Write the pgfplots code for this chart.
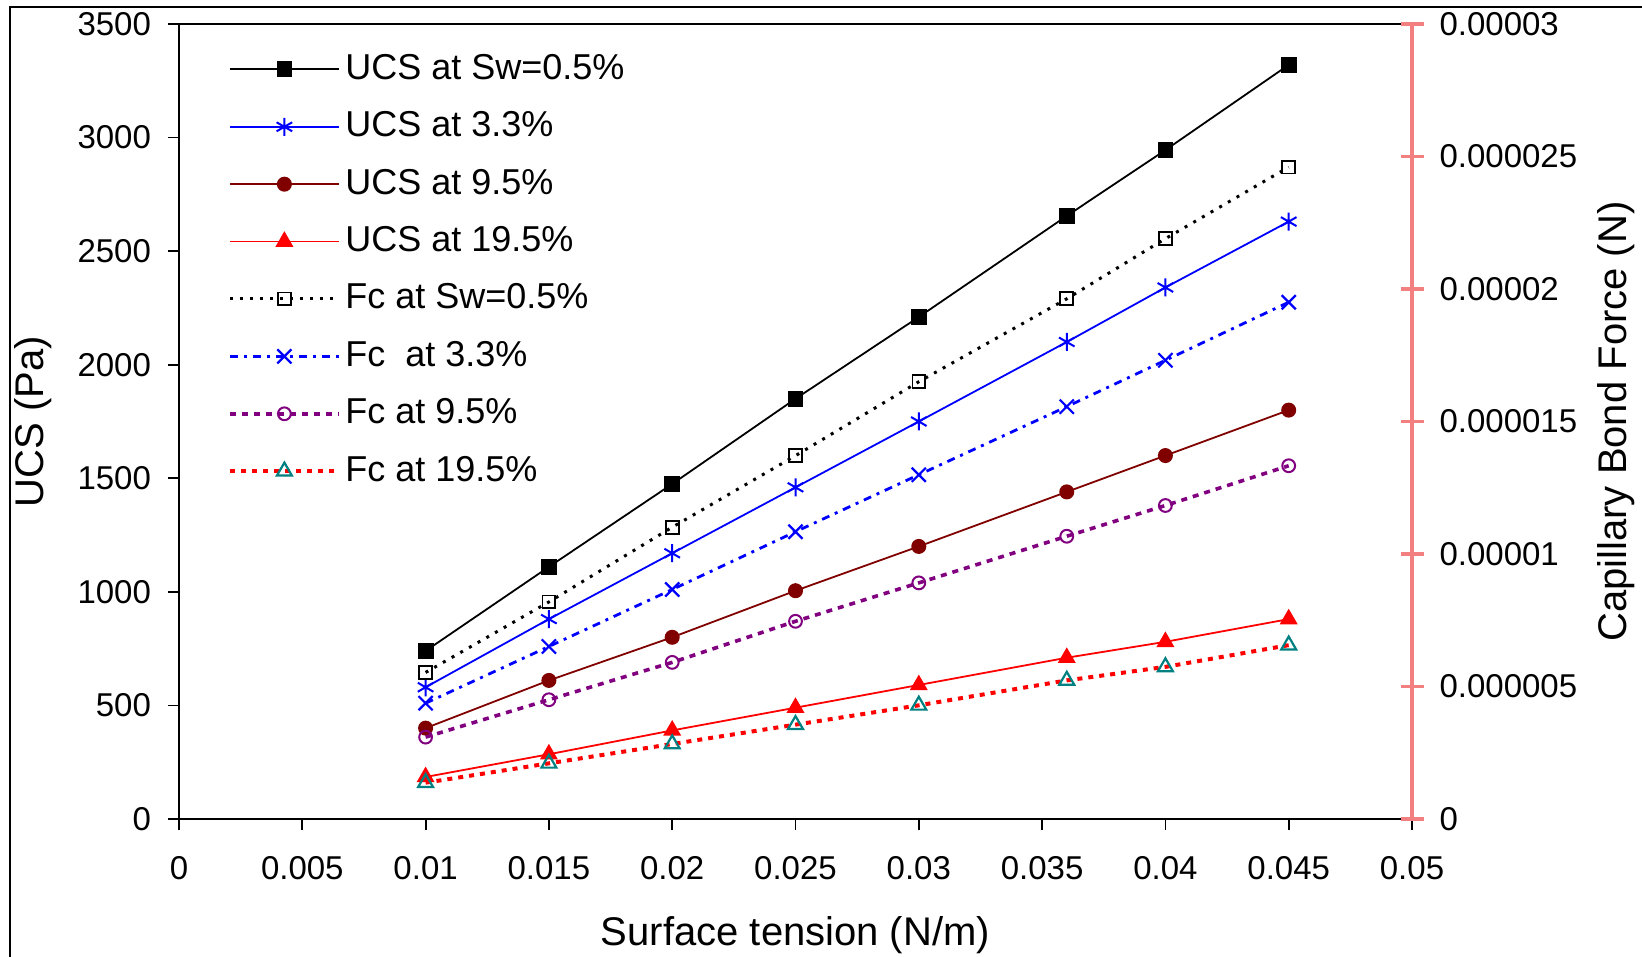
\documentclass[border=0pt]{standalone}
\usepackage{fontspec}
\setmainfont{Liberation Sans}
\usepackage{pgfplots}
\pgfplotsset{compat=1.18}
\definecolor{ucsblue}{RGB}{0,0,255}
\definecolor{ucsmaroon}{RGB}{128,0,0}
\definecolor{ucsred}{RGB}{255,0,0}
\definecolor{fcpurple}{RGB}{128,0,128}
\definecolor{fcteal}{RGB}{0,128,128}
\definecolor{axpink}{RGB}{242,128,128}
\pgfplotsset{
  ucsA/.style={black, line width=0.9pt, mark=square*, mark size=3.5pt, mark options={solid}},
  ucsB/.style={ucsblue, line width=0.9pt, mark=asterisk, mark size=4.5pt, mark options={solid, line width=1pt}},
  ucsC/.style={ucsmaroon, line width=0.9pt, mark=*, mark size=3.3pt, mark options={solid}},
  ucsD/.style={ucsred, line width=0.9pt, mark=triangle*, mark size=4.3pt, mark options={solid}},
  fcA/.style={black, line width=1.5pt, dash pattern=on 1.5pt off 3.5pt, mark=square, mark size=3.2pt, mark options={solid, line width=0.9pt}},
  fcB/.style={ucsblue, line width=1.4pt, dash pattern=on 4pt off 3pt on 1.5pt off 3pt, mark=x, mark size=5pt, mark options={solid, line width=1.1pt}},
  fcC/.style={fcpurple, line width=1.8pt, dash pattern=on 3pt off 3pt, mark=o, mark size=3.2pt, mark options={solid, line width=1pt}},
  fcD/.style={ucsred, line width=2pt, dash pattern=on 2.5pt off 3pt, mark=triangle, mark size=4.3pt, mark options={solid, fcteal, line width=1.1pt}},
}
\begin{document}
\begin{tikzpicture}
\useasboundingbox (0,0) rectangle (821pt,478.5pt);
\draw[line width=1pt] (5pt,0) -- (5pt,475pt) -- (821pt,475pt);
\begin{axis}[
  at={(89.5pt,69pt)}, anchor=south west,
  width=616.5pt, height=397.5pt, scale only axis,
  xmin=0, xmax=0.05, ymin=0, ymax=3500,
  scaled x ticks=false, scaled y ticks=false,
  xtick={0,0.005,0.01,0.015,0.02,0.025,0.03,0.035,0.04,0.045,0.05},
  xticklabels={0,0.005,0.01,0.015,0.02,0.025,0.03,0.035,0.04,0.045,0.05},
  ytick={0,500,1000,1500,2000,2500,3000,3500},
  yticklabels={0,500,1000,1500,2000,2500,3000,3500},
  xtick pos=bottom, ytick pos=left,
  tick align=outside, major tick length=5.5pt,
  tick style={black, line width=0.9pt},
  separate axis lines,
  x axis line style={black, line width=1.3pt},
  y axis line style={black, line width=0.9pt},
  ticklabel style={font=\fontsize{16.5}{19}\selectfont},
  /pgf/number format/assume math mode=true,
  xticklabel style={yshift=-9.5pt},
  yticklabel style={xshift=-5pt},
  xlabel={Surface tension (N/m)},
  ylabel={UCS (Pa)},
  label style={font=\fontsize{20}{24}\selectfont},
  xlabel style={at={(axis description cs:0.5,-0.1460)}, anchor=center},
  ylabel style={at={(axis description cs:-0.1184,0.5)}, anchor=center},
  legend cell align=left,
  legend image code/.code={\draw[mark repeat=2, mark phase=2, #1] plot coordinates {(0pt,0pt) (27pt,0pt) (54.5pt,0pt)};},
  legend style={draw=none, fill=none, at={(axis description cs:0,1)}, anchor=north west,
    xshift=24.5pt, yshift=-12.5pt, inner sep=0pt, row sep=8.7pt,
    font=\fontsize{18}{21}\selectfont,
    nodes={inner sep=2pt, text height=13pt, text depth=3pt}},
]
\addplot[ucsA] coordinates {(0.01,740) (0.015,1110) (0.02,1475) (0.025,1850) (0.03,2210) (0.036,2655) (0.04,2945) (0.045,3320)};
\addlegendentry{UCS at Sw=0.5\%}
\addplot[ucsB] coordinates {(0.01,580) (0.015,880) (0.02,1170) (0.025,1460) (0.03,1750) (0.036,2100) (0.04,2340) (0.045,2630)};
\addlegendentry{UCS at 3.3\%}
\addplot[ucsC] coordinates {(0.01,400) (0.015,610) (0.02,800) (0.025,1005) (0.03,1200) (0.036,1440) (0.04,1600) (0.045,1800)};
\addlegendentry{UCS at 9.5\%}
\addplot[ucsD] coordinates {(0.01,185) (0.015,285) (0.02,390) (0.025,490) (0.03,590) (0.036,710) (0.04,780) (0.045,880)};
\addlegendentry{UCS at 19.5\%}
\addlegendimage{fcA}
\addlegendentry{Fc at Sw=0.5\%}
\addlegendimage{fcB}
\addlegendentry{Fc \ at 3.3\%}
\addlegendimage{fcC}
\addlegendentry{Fc at 9.5\%}
\addlegendimage{fcD}
\addlegendentry{Fc at 19.5\%}
\end{axis}
\begin{axis}[
  at={(89.5pt,69pt)}, anchor=south west,
  width=616.5pt, height=397.5pt, scale only axis,
  xmin=0, xmax=0.05, ymin=0, ymax=0.00003,
  axis x line=none, axis y line*=right,
  y axis line style={axpink, line width=1.6pt},
  ytick={0,0.000005,0.00001,0.000015,0.00002,0.000025,0.00003},
  yticklabels={0,0.000005,0.00001,0.000015,0.00002,0.000025,0.00003},
  scaled y ticks=false,
  tick align=center, major tick length=11.5pt,
  ytick style={axpink, line width=1.6pt},
  ticklabel style={font=\fontsize{16.5}{19}\selectfont},
  yticklabel style={xshift=4.5pt},
  ylabel={Capillary Bond Force (N)},
  label style={font=\fontsize{20}{24}\selectfont},
  ylabel style={at={(axis description cs:1.1655,0.5)}, anchor=center},
]
\addplot[fcA] coordinates {(0.01,5.53e-6) (0.015,8.19e-6) (0.02,1.101e-5) (0.025,1.371e-5) (0.03,1.65e-5) (0.036,1.963e-5) (0.04,2.19e-5) (0.045,2.46e-5)};
\addplot[fcB] coordinates {(0.01,4.37e-6) (0.015,6.51e-6) (0.02,8.66e-6) (0.025,1.084e-5) (0.03,1.299e-5) (0.036,1.556e-5) (0.04,1.731e-5) (0.045,1.95e-5)};
\addplot[fcC] coordinates {(0.01,3.09e-6) (0.015,4.5e-6) (0.02,5.91e-6) (0.025,7.46e-6) (0.03,8.91e-6) (0.036,1.067e-5) (0.04,1.183e-5) (0.045,1.333e-5)};
\addplot[fcD] coordinates {(0.01,1.37e-6) (0.015,2.1e-6) (0.02,2.83e-6) (0.025,3.56e-6) (0.03,4.29e-6) (0.036,5.23e-6) (0.04,5.74e-6) (0.045,6.56e-6)};
\end{axis}
\end{tikzpicture}
\end{document}
